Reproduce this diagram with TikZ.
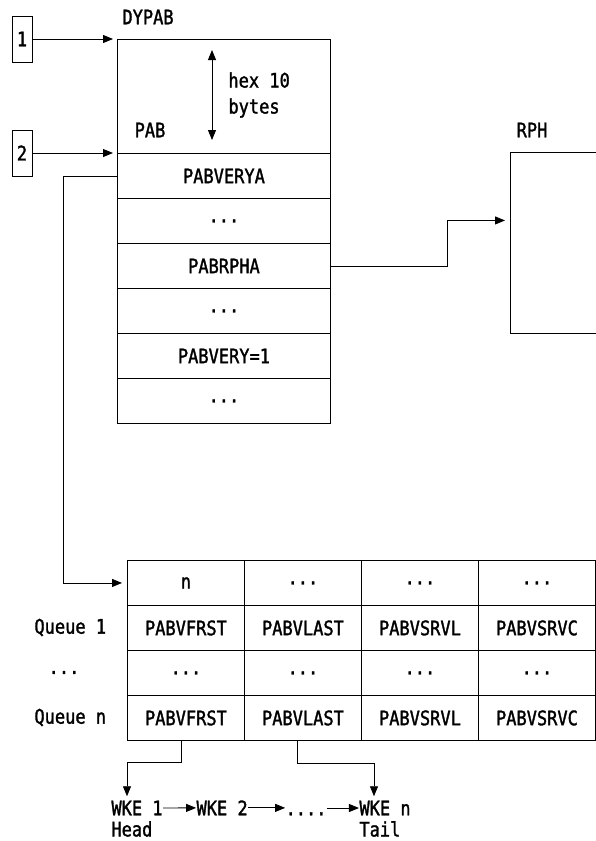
\documentclass[tikz,border=0pt]{standalone}
\usepackage{fontspec}
\setmonofont[FakeStretch=0.85,FakeBold=1.5]{DejaVu Sans Mono}
\usetikzlibrary{arrows.meta, positioning}
\newcommand{\tdots}{...}

\begin{document}
\begin{tikzpicture}[x=1pt, y=-1pt, line width=0.9pt,
  every node/.style={font=\ttfamily\fontsize{20}{26}\selectfont, inner sep=0pt},
  field/.style={draw, anchor=north west, minimum width=213pt, minimum height=45pt},
  cell/.style={draw, anchor=north west, minimum width=117pt, minimum height=45pt},
  ptr/.style={draw, minimum width=20pt, minimum height=46pt},
  arr/.style={-{Triangle[length=10pt,width=8pt]}}]
\useasboundingbox (0,0) rectangle (596,841);
\clip (0,0) rectangle (596,841);
% DYPAB and the fields of the PAB
\node[anchor=west] (dypablbl) at (122,17) {DYPAB};
\node[draw, anchor=north west, minimum width=213pt, minimum height=114pt] (dypab) at (117,39) {};
\foreach \txt [count=\i] in {PABVERYA,\tdots,PABRPHA,\tdots,{PABVERY=1},\tdots}
  \node[field] (f\i) at (117,{153+45*(\i-1)}) {\txt};
\node (pablbl) at (150,130) {PAB};
\coordinate (hextop) at (212,50); \coordinate (hexbot) at (212,140);
\draw[{Triangle[length=10pt,width=8pt]}-{Triangle[length=10pt,width=8pt]}] (hextop) -- (hexbot);
\node[anchor=west, align=left] (hexlbl) at (228,95) {hex 10\\bytes};
\node[ptr] (p1) at (22,39) {1};
\node[ptr] (p2) at (22,153) {2};
\draw[arr, shorten >=4pt] (p1.east) -- (dypab.north west);
\draw[arr, shorten >=4pt] (p2.east) -- (f1.north west);
% RPH
\node (rphlbl) at (532,130) {RPH};
\node[draw, anchor=north west, minimum width=120pt, minimum height=181pt] (rph) at (510,152) {};
\draw[arr, shorten >=5pt] (f3.east) -- ++(117,0) |- ([yshift=22.5pt]rph.west);
% queue table
\foreach \row [count=\r] in {{n,\tdots,\tdots,\tdots},{PABVFRST,PABVLAST,PABVSRVL,PABVSRVC},{\tdots,\tdots,\tdots,\tdots},{PABVFRST,PABVLAST,PABVSRVL,PABVSRVC}}
  \foreach \txt [count=\c] in \row
    \node[cell] (t\r\c) at ({127+117*(\c-1)},{560+45*(\r-1)}) {\txt};
\node[anchor=west] (q1) at (34,627.5) {Queue 1};
\node (qdots) at (64,672.5) {\tdots};
\node[anchor=west] (qn) at (34,717.5) {Queue n};
\draw[arr, shorten >=5pt] (f1.west) -- ++(-54,0) |- (t11.west);
% work elements
\node[anchor=west] (wke1) at (111,808) {WKE 1};
\node[base right=33pt of wke1] (wke2) {WKE 2};
\node[base right=37pt of wke2] (wdots) {....};
\node[base right=32pt of wdots] (wken) {WKE n};
\node[below=5pt of wke1.south west, anchor=north west] (head) {Head};
\node[below=5pt of wken.south west, anchor=north west] (tail) {Tail};
\draw[arr] (wke1.east) -- (wke2.west);
\draw[arr] (wke2.east) -- (wke2.east -| wdots.west);
\draw[arr] (wdots.east |- wken.west) -- (wken.west);
\draw[arr, shorten >=4pt] ([xshift=-5pt]t41.south) -- ++(0,22) -| ([xshift=16pt]wke1.north west);
\draw[arr, shorten >=4pt] ([xshift=-6pt]t42.south) -- ++(0,23) -| ([xshift=15pt]wken.north west);
\end{tikzpicture}
\end{document}
